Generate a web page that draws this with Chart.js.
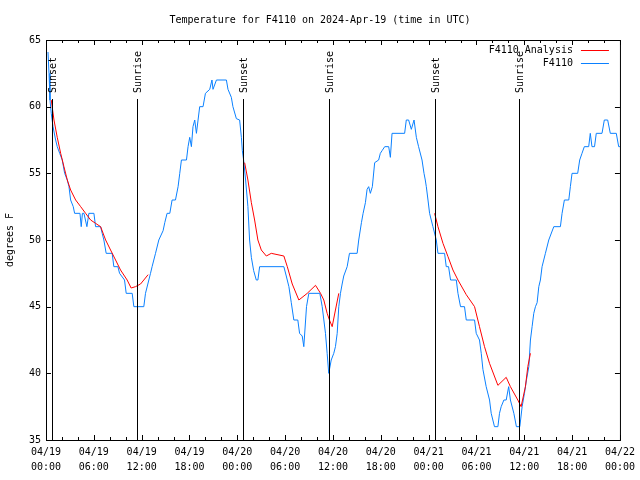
<!DOCTYPE html>
<html>
<head>
<meta charset="utf-8">
<script src="https://cdn.jsdelivr.net/npm/chart.js@4.4.1/dist/chart.umd.min.js"></script>
<style>
  html, body { margin: 0; padding: 0; background: #fff; }
  #wrap { width: 640px; height: 480px; }
</style>
</head>
<body>
<div id="wrap"><canvas id="tempChart" width="640" height="480"></canvas></div>
<script>
// x values are hours since 04/19 00:00 UTC
const obsHours = [
  0.25, 0.38, 0.50, 0.66, 0.88, 1.21, 1.41, 1.72, 2.04, 2.34, 2.67, 2.88, 3.09, 3.42, 3.59,
  4.26, 4.42, 4.57, 4.76, 5.13, 5.38, 6.01, 6.22, 6.85, 7.05, 7.26, 7.55, 8.30, 8.51, 9.02,
  9.23, 9.85, 10.06, 10.81, 11.02, 12.27, 12.48, 13.11, 13.31, 13.74, 14.15, 14.69, 14.90,
  15.19, 15.53, 15.82, 16.24, 16.57, 16.78, 16.99, 17.62, 17.82, 18.03, 18.24, 18.44, 18.66,
  18.87, 19.28, 19.70, 20.00, 20.54, 20.82, 20.95, 21.38, 22.63, 22.83, 23.25, 23.45, 23.88,
  24.29, 24.51, 24.63, 24.79, 25.04, 25.33, 25.54, 25.76, 26.05, 26.38, 26.58, 26.80, 29.84,
  30.14, 30.47, 30.77, 31.09, 31.59, 31.81, 32.14, 32.34, 32.68, 32.97, 34.35, 34.65, 35.06,
  35.27, 35.47, 35.78, 36.10, 36.31, 36.53, 36.73, 36.94, 37.15, 37.35, 37.78, 38.07, 39.03,
  39.23, 39.57, 39.78, 40.07, 40.28, 40.48, 40.69, 40.94, 41.23, 41.73, 41.94, 42.16, 42.49,
  42.99, 43.20, 43.41, 44.99, 45.20, 45.49, 45.83, 46.17, 46.46, 46.74, 47.17, 47.42, 47.58,
  47.71, 47.92, 48.12, 48.33, 48.54, 48.96, 49.17, 50.00, 50.21, 50.50, 50.75, 51.47, 51.68,
  52.00, 52.50, 52.72, 53.76, 53.97, 54.38, 54.60, 54.81, 55.22, 55.64, 55.85, 56.26, 56.69,
  56.89, 57.10, 57.44, 57.73, 58.04, 58.26, 58.69, 59.01, 59.44, 59.73, 60.02, 60.27, 60.57,
  60.77, 60.98, 61.19, 61.40, 61.61, 61.82, 62.02, 62.23, 62.65, 63.07, 63.70, 64.53, 64.74,
  65.03, 65.58, 65.78, 65.99, 66.70, 66.95, 67.24, 67.53, 68.08, 68.28, 68.49, 68.81, 69.03,
  69.75, 70.04, 70.46, 70.79, 71.54, 71.84, 72.00
];
const obsTemps = [
  64.1, 62.5, 60.5, 59.5, 58.5, 57.5, 57, 56.5, 56, 55, 54.5, 54, 53, 52.5, 52,
  52, 51, 52, 52, 51, 52, 52, 51, 51, 50.5, 50, 49, 49, 48, 48,
  47.5, 47, 46, 46, 45, 45, 46, 47.5, 48, 49, 50, 50.7, 51.3,
  52, 52, 53, 53, 54, 55, 56, 56, 57, 57.7, 57, 58.5, 59,
  58, 60, 60, 61, 61.3, 62, 61.3, 62, 62, 61.3, 60.7, 60, 59.1,
  59, 57.7, 56.7, 56, 54.5, 52.5, 50, 48.7, 47.7, 47, 47, 48, 48,
  47.3, 46.5, 45.3, 44, 44, 43, 42.8, 42, 45, 46, 46, 45, 43,
  41.5, 40, 41, 41.5, 42, 43, 45, 46, 46.7, 47.3, 48, 49, 49,
  50, 51.3, 52, 52.8, 53.8, 54, 53.5, 54, 55.8, 56, 56.5, 56.7, 57,
  57, 56.2, 58, 58, 59, 59, 58.3, 59, 57.7, 57, 56, 55, 54.5,
  54, 53, 52, 51.5, 51, 50, 49, 49, 48, 48, 47, 47, 46,
  45, 45, 44, 44, 43, 42.5, 41.5, 40.3, 39, 38, 37, 36, 36,
  37, 37.5, 38, 38, 39, 38, 37, 36, 36, 37.5, 38.5, 39.5, 40.5,
  42.5, 43.5, 44.5, 45, 45.3, 46.5, 47, 48, 49, 50, 51, 51, 52,
  53, 53, 54, 55, 55, 56, 56.5, 57, 57, 58, 57, 57, 58,
  58, 59, 59, 58, 58, 57, 57
];
// analysis curve, null marks a break between the three evening runs
const fitHours = [
  0.66, 1.00, 1.41, 1.84, 2.25, 2.67, 3.09, 3.72, 4.35, 4.97, 5.60, 6.22, 6.85, 7.48,
  8.10, 8.73, 9.35, 10.18, 10.68, 11.23, 11.86, 12.27, 12.81,
  18,
  24.92, 25.33, 25.76, 26.17, 26.58, 27.01, 27.64, 28.26, 29.84, 30.27, 30.89, 31.72,
  32.77, 33.81, 34.44, 34.85, 35.27, 35.56, 35.90, 36.31, 36.73,
  42,
  48.75, 49.17, 49.80, 50.43, 51.05, 51.68, 52.72, 53.76, 54.38, 55.01, 55.64, 56.69,
  57.73, 58.26, 59.19, 59.60, 60.14, 60.44, 60.77
];
const fitTemps = [
  60.5, 59, 57.7, 56.5, 55.5, 54.5, 53.75, 53, 52.5, 52, 51.5, 51.25, 51, 50,
  49.25, 48.5, 47.75, 47, 46.4, 46.5, 46.7, 47, 47.4,
  null,
  55.8, 54.5, 52.8, 51.5, 50, 49.25, 48.8, 49, 48.8, 48, 46.7, 45.5,
  46, 46.6, 46, 45.5, 44.5, 44, 43.5, 44.75, 46,
  null,
  52, 51, 49.75, 48.75, 47.75, 47, 45.9, 45, 43.5, 42, 40.75, 39.1,
  39.7, 39, 38, 37.5, 39, 40.5, 41.5
];
const sunHours = [0.71, 11.43, 24.71, 35.47, 48.75, 59.39];
const sunLabels = ["Sunset", "Sunrise", "Sunset", "Sunrise", "Sunset", "Sunrise"];
const dayLabels = ["04/19", "04/20", "04/21", "04/22"];
const yTicks = [35, 40, 45, 50, 55, 60, 65];

const FONT = "'DejaVu Sans Mono', monospace";
Chart.defaults.font.family = FONT;
Chart.defaults.font.size = 10;
Chart.defaults.color = "#000";

function pad2(n) { return (n < 10 ? "0" : "") + n; }

// gnuplot look: frame, inward ticks, sun lines, title, legend
const gnuplotDecor = {
  id: "gnuplotDecor",
  afterDatasetsDraw(chart) {
    const ctx = chart.ctx;
    const a = chart.chartArea;
    const xs = chart.scales.x, ys = chart.scales.y;
    ctx.save();
    ctx.strokeStyle = "#000";
    ctx.lineWidth = 1;

    // sunrise / sunset markers
    ctx.font = "10px " + FONT;
    ctx.fillStyle = "#000";
    sunHours.forEach((h, i) => {
      const px = Math.round(xs.getPixelForValue(h)) + 0.5;
      ctx.beginPath();
      ctx.moveTo(px, a.top + 59);
      ctx.lineTo(px, a.bottom);
      ctx.stroke();
      ctx.save();
      ctx.translate(px + 1, a.top + 53);
      ctx.rotate(-Math.PI / 2);
      ctx.textAlign = "left";
      ctx.textBaseline = "middle";
      ctx.fillText(sunLabels[i], 0, 0);
      ctx.restore();
    });

    // frame
    ctx.strokeRect(a.left + 0.5, a.top + 0.5, a.right - a.left, a.bottom - a.top);

    // inward ticks on all four sides
    ctx.beginPath();
    xs.ticks.forEach(t => {
      const px = Math.round(xs.getPixelForValue(t.value)) + 0.5;
      const len = t.value % 6 === 0 ? 5 : 3;
      ctx.moveTo(px, a.bottom); ctx.lineTo(px, a.bottom - len);
      ctx.moveTo(px, a.top); ctx.lineTo(px, a.top + len);
    });
    ys.ticks.forEach(t => {
      const py = Math.round(ys.getPixelForValue(t.value)) + 0.5;
      ctx.moveTo(a.left, py); ctx.lineTo(a.left + 5, py);
      ctx.moveTo(a.right, py); ctx.lineTo(a.right - 5, py);
    });
    ctx.stroke();

    // title and y label
    ctx.textAlign = "center";
    ctx.textBaseline = "middle";
    ctx.fillText("Temperature for F4110 on 2024-Apr-19 (time in UTC)", chart.width / 2, 20);
    ctx.save();
    ctx.translate(10, (a.top + a.bottom) / 2);
    ctx.rotate(-Math.PI / 2);
    ctx.fillText("degrees F", 0, 0);
    ctx.restore();

    // legend, text left of the sample line
    chart.data.datasets.forEach((ds, i) => {
      const y = a.top + 10 + i * 13;
      ctx.textAlign = "right";
      ctx.fillText(ds.label, a.right - 47, y);
      ctx.strokeStyle = ds.borderColor;
      ctx.beginPath();
      ctx.moveTo(a.right - 39, y + 0.5);
      ctx.lineTo(a.right - 11, y + 0.5);
      ctx.stroke();
    });
    ctx.restore();
  }
};

const ctx = document.getElementById("tempChart").getContext("2d");
const tempChart = new Chart(ctx, {
  type: "line",
  data: {
    datasets: [
      {
        label: "F4110 Analysis",
        data: fitHours.map((h, i) => ({ x: h, y: fitTemps[i] })),
        borderColor: "#ff0000",
        borderWidth: 1,
        pointRadius: 0,
        spanGaps: false,
      },
      {
        label: "F4110",
        data: obsHours.map((h, i) => ({ x: h, y: obsTemps[i] })),
        borderColor: "#0a80ff",
        borderWidth: 1,
        pointRadius: 0,
      },
    ],
  },
  options: {
    responsive: false,
    devicePixelRatio: 1,
    animation: false,
    layout: { padding: { top: 40, right: 19, left: 0, bottom: 0 } },
    plugins: {
      legend: { display: false },
      tooltip: { enabled: false },
    },
    scales: {
      x: {
        type: "linear",
        min: 0,
        max: 72,
        grid: { display: false, drawTicks: false },
        border: { display: false },
        afterFit: (s) => { s.height = 40; },
        ticks: {
          stepSize: 2,
          autoSkip: false,
          maxRotation: 0,
          padding: 5,
          font: { size: 10, lineHeight: 1.5 },
          callback: (v) => {
            if (v % 6 !== 0) return "";
            return [dayLabels[Math.floor(v / 24)], pad2(v % 24) + ":00"];
          },
        },
      },
      y: {
        min: yTicks[0],
        max: yTicks[yTicks.length - 1],
        grid: { display: false, drawTicks: false },
        border: { display: false },
        afterFit: (s) => { s.width = 46; },
        afterBuildTicks: (s) => { s.ticks = yTicks.map(v => ({ value: v })); },
        ticks: { padding: 5 },
      },
    },
  },
  plugins: [gnuplotDecor],
});
</script>
</body>
</html>
